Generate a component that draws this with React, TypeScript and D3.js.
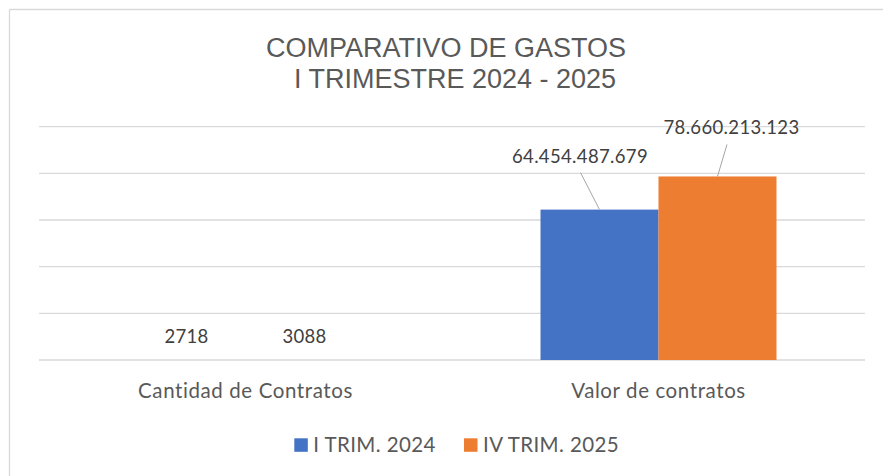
import React from 'react'
import * as d3 from 'd3'

// chart data
const categories = ['Cantidad de Contratos', 'Valor de contratos']
const seriesNames = ['I TRIM. 2024', 'IV TRIM. 2025']
const trim2024 = [2718, 64454487679]
const trim2025 = [3088, 78660213123]
const gridTicks = [0, 20000000000, 40000000000, 60000000000, 80000000000, 100000000000]
const titleLines = ['COMPARATIVO DE GASTOS', 'I TRIMESTRE 2024 - 2025']

const colors = ['#4472c4', '#ed7d31']
const W = 883
const H = 476
const plot = { left: 39, right: 865, top: 126.67, bottom: 360 }

const esLocale = d3.formatLocale({ decimal: ',', thousands: '.', grouping: [3], currency: ['', ''] })
const fmtBig = esLocale.format(',d')
const fmtPlain = d3.format('d')

// manually placed labels (with leader lines) for the big values
const labelShift = [
  { dx: -19.5, dy: -47, lx: -19, ly: -37 },
  { dx: 14, dy: -42, lx: 9.5, ly: -32 },
]

const FONT = 'Lato, "Noto Sans", sans-serif'

export default function App() {
  const series = [trim2024, trim2025]

  const x0 = d3.scaleBand<string>()
    .domain(categories)
    .range([plot.left, plot.right])
    .paddingInner(0.4286)
    .paddingOuter(0.2143)
  const x1 = d3.scaleBand<number>()
    .domain(d3.range(seriesNames.length))
    .range([0, x0.bandwidth()])
  const y = d3.scaleLinear()
    .domain([0, d3.max(gridTicks) as number])
    .range([plot.bottom, plot.top])

  const bars: any[] = []
  categories.forEach((cat, ci) => {
    series.forEach((vals, si) => {
      const v = vals[ci]
      const bx = (x0(cat) as number) + (x1(si) as number)
      bars.push({ ci, si, v, bx, bw: x1.bandwidth(), top: y(v) })
    })
  })

  return (
    <svg width={W} height={H} style={{ position: 'absolute', left: 0, top: 0, background: '#fff' }}>
      {/* chart border (cropped at right/bottom) */}
      <line x1={9.5} y1={9.5} x2={W} y2={9.5} stroke="#d9d9d9" strokeWidth={1.3} />
      <line x1={9.5} y1={9.5} x2={9.5} y2={H} stroke="#d9d9d9" strokeWidth={1.3} />

      {titleLines.map((t, i) => (
        <text key={t} x={i === 0 ? 446 : 455} y={56.7 + i * 31} textAnchor="middle"
          fontFamily='"Liberation Sans", Arial, sans-serif' fontSize={27} fill="#595959">{t}</text>
      ))}

      {gridTicks.map(t => (
        <line key={t} x1={plot.left} x2={plot.right} y1={y(t)} y2={y(t)} stroke="#d9d9d9" strokeWidth={1.3} />
      ))}

      {bars.map(b => (
        <rect key={`${b.ci}-${b.si}`} x={b.bx} y={b.top} width={b.bw} height={plot.bottom - b.top} fill={colors[b.si]} />
      ))}

      {bars.map(b => {
        const cx = b.bx + b.bw / 2
        if (b.ci === 0) {
          return (
            <text key={`l${b.ci}-${b.si}`} x={cx} y={b.top - 17} textAnchor="middle"
              fontFamily={FONT} fontSize={18.5} letterSpacing={0.3} fill="#404040">{fmtPlain(b.v)}</text>
          )
        }
        const s = labelShift[b.si]
        return (
          <g key={`l${b.ci}-${b.si}`}>
            <line x1={cx} y1={b.top} x2={cx + s.lx} y2={b.top + s.ly} stroke="#a6a6a6" strokeWidth={1} />
            <text x={cx + s.dx} y={b.top + s.dy} textAnchor="middle"
              fontFamily={FONT} fontSize={18.5} letterSpacing={0.35} fill="#404040">{fmtBig(b.v)}</text>
          </g>
        )
      })}

      {categories.map(c => (
        <text key={c} x={(x0(c) as number) + x0.bandwidth() / 2} y={398.3} textAnchor="middle"
          fontFamily={FONT} fontSize={20.5} letterSpacing={0.6} fill="#595959">{c}</text>
      ))}

      {seriesNames.map((n, i) => {
        const lx = i === 0 ? 294.3 : 464
        return (
          <g key={n}>
            <rect x={lx} y={438.3} width={13.5} height={13.5} fill={colors[i]} />
            <text x={lx + 19} y={451.7} fontFamily={FONT} fontSize={20.5} letterSpacing={0.4} fill="#595959">{n}</text>
          </g>
        )
      })}
    </svg>
  )
}
